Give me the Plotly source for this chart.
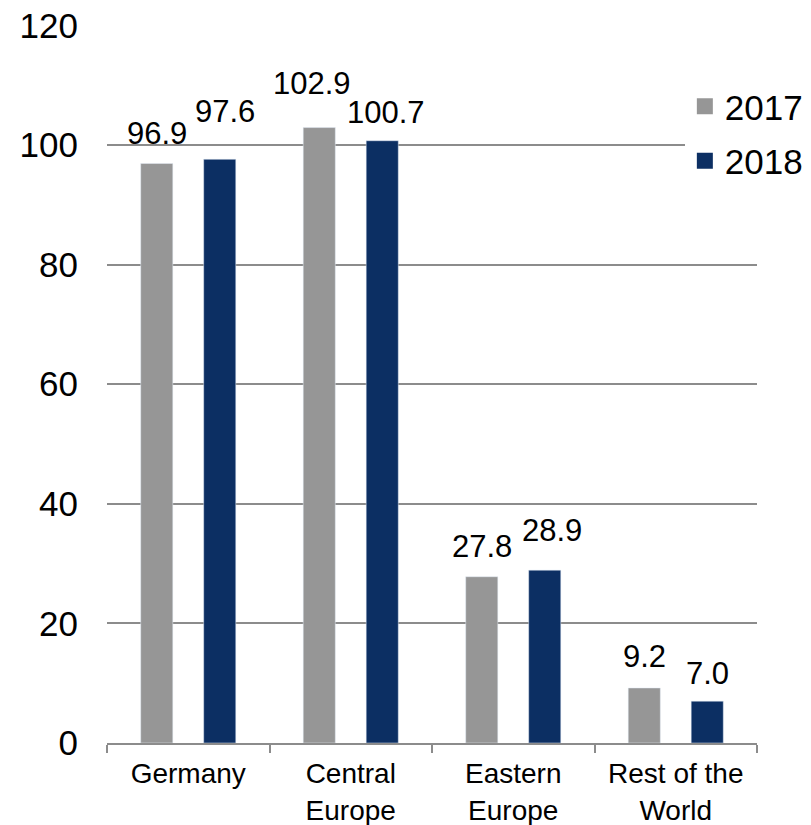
import plotly.graph_objects as go

categories = ["Germany", "Central<br>Europe", "Eastern<br>Europe", "Rest of the<br>World"]
values_2017 = [96.9, 102.9, 27.8, 9.2]
values_2018 = [97.6, 100.7, 28.9, 7.0]
y_ticks = [0, 20, 40, 60, 80, 100, 120]

# label placement styling (pixels above bar top / horizontal nudge)
lift_2017 = [10, 25, 11, 12]
lift_2018 = [28, 9, 20, 8]
nudge_2017 = [0, -7, 0, 0]
nudge_2018 = [5, 4, 7, 0]

GRAY = "#969696"
NAVY = "#0c2f63"
FONT = "Arial, Liberation Sans, sans-serif"
BAR_OFFSET = 31.5  # px from category centre to bar centre

fig = go.Figure()
fig.add_trace(go.Bar(x=categories, y=values_2017, name="2017", marker_color=GRAY,
                     showlegend=False))
fig.add_trace(go.Bar(x=categories, y=values_2018, name="2018", marker_color=NAVY,
                     showlegend=False))
# legend entries
fig.add_trace(go.Scatter(x=[None], y=[None], mode="markers", name="2017", legendgroup="a",
                         marker=dict(symbol="square", size=16, color=GRAY)))
fig.add_trace(go.Scatter(x=[None], y=[None], mode="markers", name="2018", legendgroup="b",
                         marker=dict(symbol="square", size=16, color=NAVY)))

annotations = []
for vals, lifts, nudges, sign in ((values_2017, lift_2017, nudge_2017, -1),
                                  (values_2018, lift_2018, nudge_2018, 1)):
    for cat, v, lift, nd in zip(categories, vals, lifts, nudges):
        annotations.append(dict(
            x=cat, y=v, xref="x", yref="y", text=f"{v:.1f}", showarrow=False,
            xanchor="center", yanchor="bottom", xshift=sign * BAR_OFFSET + nd,
            yshift=lift, font=dict(size=31, color="black", family=FONT)))

fig.update_layout(
    width=811, height=825,
    margin=dict(l=107, r=54, t=25, b=82, autoexpand=False),
    paper_bgcolor="white", plot_bgcolor="white",
    barmode="group", bargap=0.225, bargroupgap=0.49,
    font=dict(family=FONT, color="black"),
    annotations=annotations,
    legend=dict(x=0.889, y=0.9276, xanchor="left", yanchor="top",
                bgcolor="white", font=dict(size=35), itemwidth=30,
                tracegroupgap=6),
)
fig.update_xaxes(
    type="category", showline=True, linecolor="#8c8c8c", linewidth=1.5,
    ticks="outside", tickson="boundaries", ticklen=8, tickcolor="#8c8c8c",
    tickwidth=1.5, tickfont=dict(size=28), showgrid=False, automargin=False,
    ticklabelstandoff=5,
)
fig.update_yaxes(
    range=[0, 120.05], tickvals=y_ticks, showgrid=True, gridcolor="#8c8c8c",
    gridwidth=1.5, showline=False, zeroline=False, tickfont=dict(size=35),
    ticklabelstandoff=28, automargin=False,
)

fig.write_html("out.html")
